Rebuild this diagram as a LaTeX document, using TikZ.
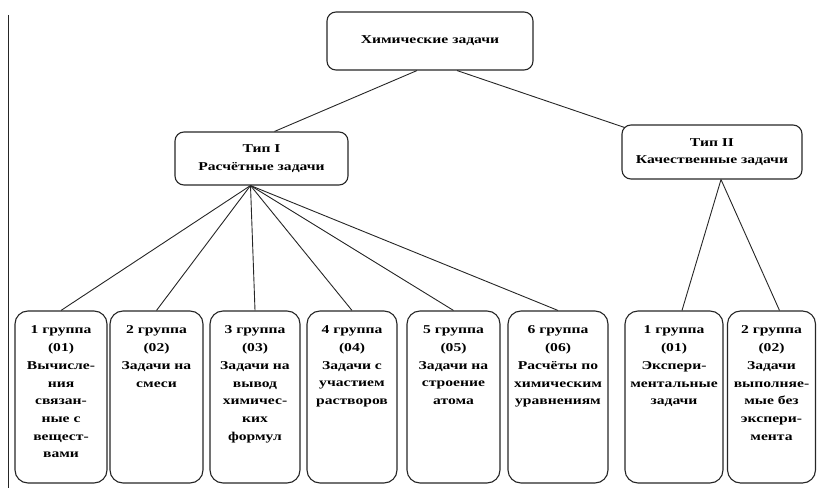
\documentclass[tikz,border=0pt]{standalone}
\usepackage{fontspec}
\setmainfont[FakeStretch=1.3]{Liberation Serif}
\usetikzlibrary{positioning}
\newcommand{\grp}[1]{\parbox[t][142pt][t]{88pt}{\centering #1}}
\tikzstyle{zadacha} = [draw=black!85, line width=1.1pt, rectangle, rounded corners=9pt, align=center, font=\bfseries\fontsize{12}{17.7}\selectfont]
\tikzstyle{gruppa} = [zadacha, rounded corners=13pt, inner xsep=0pt, inner ysep=15pt, minimum height=172pt]
\tikzstyle{svyaz} = [draw=black!85, line width=0.9pt]

\begin{document}
\begin{tikzpicture}[x=1pt,y=1pt]
\useasboundingbox (0,0) rectangle (817,488);
\node [zadacha, minimum width=206pt, minimum height=58pt] (top) at (430,447) {Химические задачи};
\node [zadacha, minimum width=173pt, minimum height=53pt] (typ1) at (261.5,329.5) {Тип I\\Расчётные задачи};
\node [zadacha, minimum width=180pt, minimum height=54pt] (typ2) at (712,336) {Тип II\\Качественные задачи};

\node [gruppa, minimum width=92pt] (g1) at (61,91) {\grp{1 группа\\(01)\\Вычисле-\\ния\\связан-\\ные с\\вещест-\\вами}};
\node [gruppa, minimum width=93pt] (g2) at (156.5,91) {\grp{2 группа\\(02)\\Задачи на\\смеси}};
\node [gruppa, minimum width=90pt] (g3) at (255,91) {\grp{3 группа\\(03)\\Задачи на\\вывод\\химичес-\\ких\\формул}};
\node [gruppa, minimum width=90pt] (g4) at (352,91) {\grp{4 группа\\(04)\\Задачи с\\участием\\растворов}};
\node [gruppa, minimum width=93pt] (g5) at (453.5,91) {\grp{5 группа\\(05)\\Задачи на\\строение\\атома}};
\node [gruppa, minimum width=100pt] (g6) at (558,91) {\grp{6 группа\\(06)\\Расчёты по\\химическим\\уравнениям}};
\node [gruppa, minimum width=98pt] (g7) at (674,91) {\grp{1 группа\\(01)\\Экспери-\\ментальные\\задачи}};
\node [gruppa, minimum width=87pt] (g8) at (771.5,91) {\grp{2 группа\\(02)\\Задачи\\выполняе-\\мые без\\экспери-\\мента}};

\coordinate (kraj) at (8,473);
\draw [svyaz] (kraj) -- (8,0);
\draw [svyaz] ([xshift=-13pt]top.south) -- ([xshift=13pt]typ1.north);
\draw [svyaz] ([xshift=27pt]top.south) -- ([shift={(3pt,-3pt)}]typ2.north west);
\foreach \i in {1,...,6}
  \draw [svyaz] ([xshift=-11pt]typ1.south) -- (g\i.north);
\foreach \i in {7,8}
  \draw [svyaz] ([xshift=9pt]typ2.south) -- ([xshift=8pt]g\i.north);
\end{tikzpicture}
\end{document}
